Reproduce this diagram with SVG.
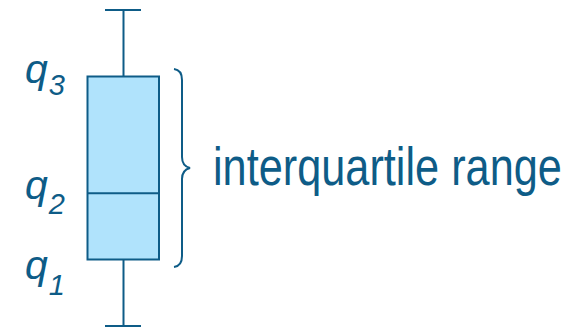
<svg xmlns="http://www.w3.org/2000/svg" width="573" height="329" viewBox="0 0 573 329">
<style>
.ln{stroke:#0e5c87;stroke-width:2;fill:none}
.q{font-family:"Liberation Sans",Arial,sans-serif;font-style:italic;fill:#0e5c87}
.lbl{font-family:"Liberation Sans",Arial,sans-serif;fill:#0e5c87}
</style>
<rect width="573" height="329" fill="#ffffff"/>
<g id="connectors">
<path class="ln" d="M123.5,10 V76.5 M105,10 H141"/>
<path class="ln" d="M123.5,259.5 V326 M105,326 H141"/>
</g>
<g id="box">
<rect x="87.5" y="76.5" width="71.5" height="183" fill="#b0e3fc" stroke="#0e5c87" stroke-width="2"/>
<line x1="87.5" y1="193.3" x2="159" y2="193.3" class="ln"/>
</g>
<g id="brace">
<path class="ln" d="M174,69 Q182,70 182,80 V157 Q182,166 190,168 Q182,170 182,179 V256 Q182,266 174,267"/>
</g>
<g id="label-iqr">
<text class="lbl" transform="translate(213,185) scale(1,1.224)" x="0" y="0" font-size="43.3">interquartile range</text>
</g>
<g id="label-q3">
<text class="q" x="25" y="83" font-size="41">q<tspan font-size="29" dx="1" dy="12">3</tspan></text>
</g>
<g id="label-q2">
<text class="q" x="25" y="198.5" font-size="41">q<tspan font-size="29" dx="1" dy="15.5">2</tspan></text>
</g>
<g id="label-q1">
<text class="q" x="25" y="278.5" font-size="41">q<tspan font-size="29" dx="1" dy="16.5">1</tspan></text>
</g>
</svg>
